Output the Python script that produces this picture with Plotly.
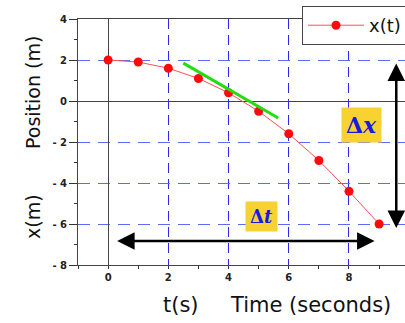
import plotly.graph_objects as go

# Position of the object sampled once per second
t_values = [0, 1, 2, 3, 4, 5, 6, 7, 8, 9]
x_values = [2.0, 1.9, 1.6, 1.1, 0.4, -0.5, -1.6, -2.9, -4.4, -6.0]

# Tangent segment drawn near t = 4
tangent_t = [2.5, 5.65]
tangent_x = [1.85, -0.83]

# Displacement / interval arrows (data coordinates)
dt_arrow_t = [0.25, 8.85]
dt_arrow_x = -6.83
dx_arrow_t = 9.57
dx_arrow_x = [1.9, -6.2]

x_tickvals = [0, 2, 4, 6, 8]
y_tickvals = [-8, -6, -4, -2, 0, 2, 4]
y_ticktext = ["- 8", "- 6", "- 4", "- 2", "0", "2", "4"]

W, H = 405, 323
ML, MT, MB, MR = 78, 19, 58, 0
PW, PH = W - ML - MR, H - MT - MB


def px(xp):
    return (xp - ML) / PW


def py(yp):
    return (H - MB - yp) / PH


title_font = dict(family="DejaVu Sans", size=19, color="#111")
tick_font = dict(family="DejaVu Sans", size=10, color="#222", weight="bold")

fig = go.Figure()

fig.add_trace(go.Scatter(
    x=t_values, y=x_values, mode="lines+markers", name="x(t)",
    line=dict(color="#ff5050", width=1),
    marker=dict(color="#ff0a0a", size=9),
))

fig.add_trace(go.Scatter(
    x=tangent_t, y=tangent_x, mode="lines", showlegend=False,
    line=dict(color="#22dd11", width=3),
))

# Shadow under the legend box
fig.add_shape(type="rect", xref="paper", yref="paper",
              x0=px(305), x1=1.1, y0=py(39.5), y1=py(31),
              fillcolor="black", line=dict(width=0), layer="above")

annotations = [
    # Δt double arrow
    dict(x=dt_arrow_t[1], y=dt_arrow_x, ax=dt_arrow_t[0], ay=dt_arrow_x,
         xref="x", yref="y", axref="x", ayref="y", text="", showarrow=True,
         arrowhead=2, startarrowhead=2, arrowside="end+start",
         arrowwidth=2.5, arrowsize=1.4, startarrowsize=1.4, arrowcolor="black"),
    # Δx double arrow
    dict(x=dx_arrow_t, y=dx_arrow_x[1], ax=dx_arrow_t, ay=dx_arrow_x[0],
         xref="x", yref="y", axref="x", ayref="y", text="", showarrow=True,
         arrowhead=2, startarrowhead=2, arrowside="end+start",
         arrowwidth=2.5, arrowsize=1.4, startarrowsize=1.4, arrowcolor="black"),
    # Δx label
    dict(x=8.4, y=-1.17, xref="x", yref="y", showarrow=False,
         text="<b>Δ<i>x</i></b>", bgcolor="#f8d230", borderpad=4,
         font=dict(family="DejaVu Serif", size=22, color="#1818e0")),
    # Δt label
    dict(x=5.1, y=-5.65, xref="x", yref="y", showarrow=False,
         text="<b>Δ<i>t</i></b>", bgcolor="#f8d230", borderpad=4,
         font=dict(family="DejaVu Serif", size=18, color="#1818e0")),
    # axis titles
    dict(x=px(33), y=py(93), xref="paper", yref="paper", showarrow=False,
         xanchor="center", yanchor="middle",
         text="Position (m)", textangle=-90, font=title_font),
    dict(x=px(33), y=py(217), xref="paper", yref="paper", showarrow=False,
         xanchor="center", yanchor="middle",
         text="x(m)", textangle=-90, font=title_font),
    dict(x=px(181), y=py(305), xref="paper", yref="paper", showarrow=False,
         xanchor="center", yanchor="middle",
         text="t(s)", font=dict(family="DejaVu Sans", size=21, color="#111")),
    dict(x=px(310), y=py(305), xref="paper", yref="paper", showarrow=False,
         xanchor="center", yanchor="middle",
         text="Time (seconds)", font=dict(family="DejaVu Sans", size=21, color="#111")),
]

fig.update_layout(
    width=W, height=H,
    margin=dict(l=ML, r=MR, t=MT, b=MB, autoexpand=False),
    paper_bgcolor="white", plot_bgcolor="white",
    annotations=annotations,
    legend=dict(x=px(302), y=py(6), xanchor="left", yanchor="top",
                bgcolor="white", bordercolor="#444", borderwidth=1,
                font=dict(family="DejaVu Sans", size=18, color="#111"),
                itemwidth=56),
    xaxis=dict(
        range=[-1, 9.86], tickvals=x_tickvals, ticks="outside", ticklen=3,
        tickcolor="#333", tickfont=tick_font, showline=True, linecolor="#444",
        linewidth=1, mirror=True,
        showgrid=True, gridcolor="#2a2af0", gridwidth=1,
        griddash="10px,6px",
        zeroline=True, zerolinecolor="#444", zerolinewidth=1,
        minor=dict(dtick=1, tick0=0, ticks="outside", ticklen=3, tickcolor="#333", showgrid=False),
    ),
    yaxis=dict(
        range=[-8, 4], tickvals=y_tickvals, ticktext=y_ticktext,
        ticks="outside", ticklen=8, tickcolor="#333", tickfont=tick_font,
        showline=True, linecolor="#444", linewidth=1,
        showgrid=True, gridcolor="#5a6cf5", gridwidth=1,
        griddash="12px,8px",
        zeroline=True, zerolinecolor="#444", zerolinewidth=1,
        minor=dict(dtick=1, tick0=0, ticks="outside", ticklen=3, tickcolor="#333", showgrid=False),
    ),
)

fig.write_html("out.html")
